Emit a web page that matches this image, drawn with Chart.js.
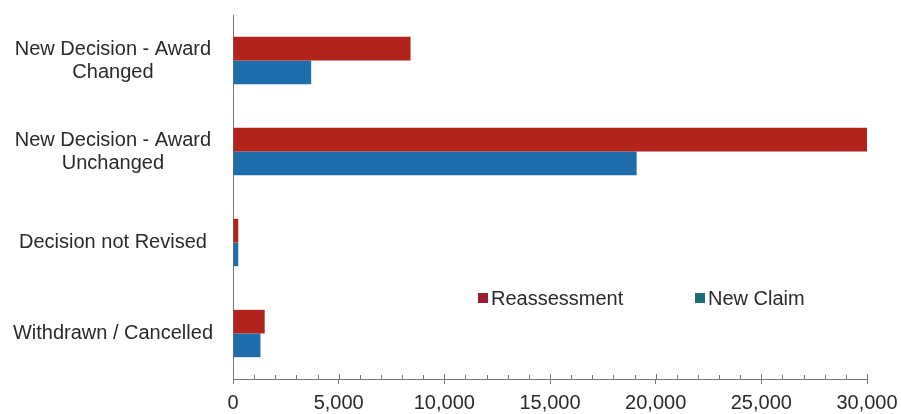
<!DOCTYPE html>
<html>
<head>
<meta charset="utf-8">
<script src="https://cdn.jsdelivr.net/npm/chart.js@4.4.0/dist/chart.umd.min.js"></script>
<style>
  html, body { margin: 0; padding: 0; background: #fff; }
  #wrap { width: 901px; height: 414px; }
</style>
</head>
<body>
<div id="wrap"><canvas id="chart" width="901" height="414"></canvas></div>
<script>
// Data
const categories = [
  ['New Decision - Award', 'Changed'],
  ['New Decision - Award', 'Unchanged'],
  'Decision not Revised',
  'Withdrawn / Cancelled'
];
const reassessment = [8400, 30000, 250, 1500];
const newClaim = [3700, 19100, 250, 1300];
const seriesNames = ['Reassessment', 'New Claim'];
const barColors = ['#B1231B', '#1F6EAB'];
const legendColors = ['#9C1D2F', '#1A6C78'];

const FONT = '"Liberation Sans", Arial, sans-serif';

// Legend drawn inside the plot, like the original
const innerLegend = {
  id: 'innerLegend',
  afterDraw(chart) {
    const ctx = chart.ctx;
    const spots = [478, 695];
    const y = 298;
    ctx.save();
    ctx.font = '20px ' + FONT;
    ctx.textBaseline = 'middle';
    chart.data.datasets.forEach((ds, i) => {
      ctx.fillStyle = legendColors[i];
      ctx.fillRect(spots[i], y - 5, 10, 10);
      ctx.fillStyle = '#2a2a2a';
      ctx.fillText(ds.label, spots[i] + 13, y + 1);
    });
    ctx.restore();
  }
};

// Small ticks sitting on top of the x axis line
const upTicks = {
  id: 'upTicks',
  afterDraw(chart) {
    const x = chart.scales.x;
    const ctx = chart.ctx;
    ctx.save();
    ctx.strokeStyle = '#777';
    ctx.lineWidth = 1;
    x.ticks.forEach(t => {
      const px = Math.round(x.getPixelForValue(t.value)) + 0.5;
      const len = t.value % 5000 === 0 ? 5 : 4;
      ctx.beginPath();
      ctx.moveTo(px, x.top - len);
      ctx.lineTo(px, x.top);
      ctx.stroke();
    });
    ctx.restore();
  }
};

const ctx = document.getElementById('chart').getContext('2d');
new Chart(ctx, {
  type: 'bar',
  data: {
    labels: categories,
    datasets: [
      { label: seriesNames[0], data: reassessment, backgroundColor: barColors[0] },
      { label: seriesNames[1], data: newClaim, backgroundColor: barColors[1] }
    ]
  },
  options: {
    indexAxis: 'y',
    responsive: false,
    animation: false,
    devicePixelRatio: 1,
    layout: { padding: { top: 15, right: 34, left: 6, bottom: 0 } },
    datasets: { bar: { categoryPercentage: 0.52, barPercentage: 1.0 } },
    scales: {
      x: {
        min: 0,
        max: 30000,
        grid: {
          drawOnChartArea: false,
          drawTicks: true,
          tickLength: 5,
          tickColor: c => (c.tick && c.tick.value % 5000 === 0 ? '#777' : 'rgba(0,0,0,0)')
        },
        border: { display: true, color: '#777' },
        afterFit: scale => {
          scale.height = 35;
          scale.paddingLeft = 0;
          scale.paddingRight = 0;
        },
        ticks: {
          stepSize: 1000,
          autoSkip: false,
          maxRotation: 0,
          padding: 7,
          color: '#2a2a2a',
          font: { family: FONT, size: 20, lineHeight: 1.2 },
          callback: v => (v % 5000 === 0 ? v.toLocaleString('en-US') : '')
        }
      },
      y: {
        grid: { display: false, drawTicks: false },
        border: { display: true, color: '#777' },
        afterFit: scale => {
          scale.width = 227;
          scale.paddingTop = 0;
          scale.paddingBottom = 0;
        },
        ticks: {
          crossAlign: 'center',
          padding: 20,
          color: '#2a2a2a',
          font: { family: FONT, size: 20, lineHeight: 1.15 }
        }
      }
    },
    plugins: { legend: { display: false }, tooltip: { enabled: false } }
  },
  plugins: [innerLegend, upTicks]
});
</script>
</body>
</html>
